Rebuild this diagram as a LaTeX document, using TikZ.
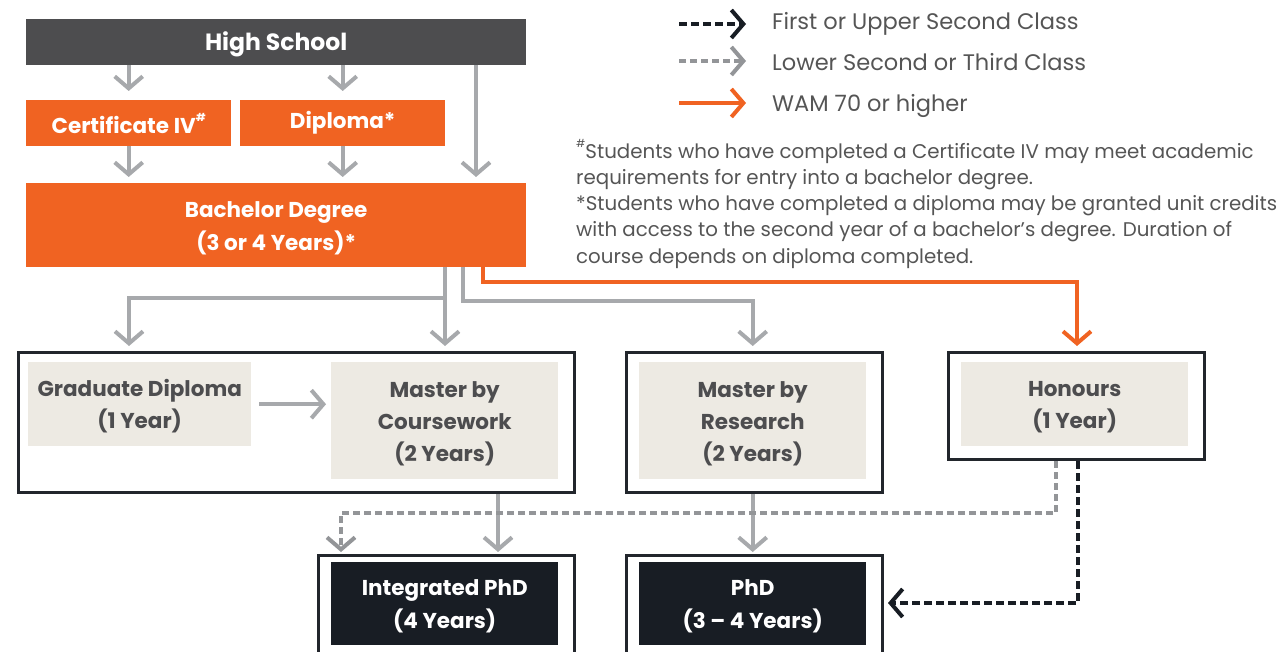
\documentclass[tikz,border=0pt]{standalone}
\usepackage{fontspec}
\setmainfont{Poppins}
\usetikzlibrary{arrows.meta,calc}
\definecolor{orng}{HTML}{F06322}
\definecolor{hsgray}{HTML}{4D4D4F}
\definecolor{agray}{HTML}{A7A9AC}
\definecolor{dgray}{HTML}{939598}
\definecolor{beige}{HTML}{EDEAE3}
\definecolor{darkbox}{HTML}{181D24}
\definecolor{bord}{HTML}{22262C}
\definecolor{txtgray}{HTML}{4D4D4F}
\definecolor{notegray}{HTML}{555555}
\newcommand{\supmark}[1]{\raisebox{0.55em}{\fontsize{11}{11}\selectfont #1}}
\tikzset{
  chev/.tip={Straight Barb[length=12pt,width=28pt]},
  conn/.style={line width=4pt},
  garrow/.style={conn, draw=agray, -chev},
  oarrow/.style={conn, draw=orng, -chev},
  gdash/.style={conn, draw=dgray, dash pattern=on 7pt off 4pt, -chev},
  kdash/.style={conn, draw=darkbox, dash pattern=on 8pt off 4pt, -chev},
  box/.style={anchor=north west, inner sep=0pt, align=center},
  lowered/.style={text height=#1},
  orngbox/.style={box, fill=orng, text=white, font=\fontsize{21.5}{33}\selectfont\bfseries},
  outerbox/.style={box, draw=bord, line width=3pt, fill=white},
  beigebox/.style={box, fill=beige, text=txtgray, font=\fontsize{21.5}{32}\selectfont\bfseries},
  darkbx/.style={box, fill=darkbox, text=white, font=\fontsize{21.5}{33}\selectfont\bfseries},
  legtext/.style={anchor=west, inner sep=0pt, text=notegray, font=\fontsize{22.5}{26}\selectfont},
  notetext/.style={anchor=north west, inner sep=0pt, align=left, text=notegray, font=\fontsize{19.8}{26.2}\selectfont},
}
\begin{document}
\begin{tikzpicture}[x=1pt,y=-1pt]
\useasboundingbox (0,0) rectangle (1281,652);
% top block
\node[box, lowered=24pt, fill=hsgray, text=white, font=\fontsize{23.5}{26}\selectfont\bfseries,
  minimum width=500pt, minimum height=46pt] (hs) at (26,19) {High School};
\node[orngbox, minimum width=205pt, minimum height=46pt] (cert) at (26,100) {Certificate IV\supmark{\#}};
\node[orngbox, minimum width=205pt, minimum height=46pt] (dip) at (240,100) {Diploma*};
\node[orngbox, lowered=55pt, minimum width=500pt, minimum height=84pt] (bach) at (26,183) {Bachelor Degree\\(3 or 4 Years)*};
% row 2
\node[outerbox, minimum width=556pt, minimum height=140pt] (o1) at (17,351) {};
\node[beigebox, lowered=54pt, minimum width=223pt, minimum height=84pt] (gd) at (28,362) {Graduate Diploma\\(1 Year)};
\node[beigebox, lowered=86pt, minimum width=227pt, minimum height=117pt] (mc) at (331,362) {Master by\\Coursework\\(2 Years)};
\node[outerbox, minimum width=256pt, minimum height=140pt] (o2) at (625,351) {};
\node[beigebox, lowered=86pt, minimum width=227pt, minimum height=117pt] (mr) at (639,362) {Master by\\Research\\(2 Years)};
\node[outerbox, minimum width=256pt, minimum height=107pt] (o3) at (947,351) {};
\node[beigebox, lowered=54pt, minimum width=227pt, minimum height=84pt] (hon) at (961,362) {Honours\\(1 Year)};
% row 3
\node[outerbox, minimum width=256pt, minimum height=98pt] (o4) at (317,554) {};
\node[darkbx, lowered=55pt, minimum width=227pt, minimum height=83pt] (ip) at (331,562) {Integrated PhD\\(4 Years)};
\node[outerbox, minimum width=256pt, minimum height=98pt] (o5) at (625,554) {};
\node[darkbx, lowered=55pt, minimum width=227pt, minimum height=83pt] (phd) at (639,562) {PhD\\(3 – 4 Years)};
% connectors top
\draw[garrow, shorten >=9pt] (cert.north |- hs.south) -- (cert.north);
\draw[garrow, shorten >=9pt] (dip.north |- hs.south) -- (dip.north);
\draw[garrow, shorten >=6pt] (476,0 |- hs.south) -- (476,0 |- bach.north);
\draw[garrow, shorten >=6pt] (cert.south) -- (cert.south |- bach.north);
\draw[garrow, shorten >=6pt] (dip.south) -- (dip.south |- bach.north);
% bachelor to row 2
\draw[garrow, shorten >=5pt] (445,0 |- bach.south) |- (129,298) -- (129,0 |- o1.north);
\draw[garrow, shorten >=5pt] (445,0 |- bach.south) -- (445,0 |- o1.north);
\draw[garrow, shorten >=5pt] (463,0 |- bach.south) |- (mr.north |- 0,301) -- (mr.north |- o2.north);
\draw[oarrow, shorten >=5pt] (483,0 |- bach.south) |- (1077,282) -- (1077,0 |- o3.north);
\draw[garrow, shorten <=8pt, shorten >=5pt] (gd.east) -- (gd.east -| mc.west);
% row 2 to row 3
\draw[garrow, shorten >=2pt] (498,0 |- o1.south) -- (498,0 |- o4.north);
\draw[garrow, shorten >=2pt] (mr.south |- o2.south) -- (mr.south |- o5.north);
\draw[gdash, shorten >=2pt] (1056,0 |- o3.south) |- (341,513) -- (341,0 |- o4.north);
\draw[kdash, shorten >=4pt] (1078,0 |- o3.south) |- (o5.east |- 0,603);
% legend
\coordinate (l1a) at (679,24); \coordinate (l1b) at (746,24);
\coordinate (l2a) at (679,61); \coordinate (l2b) at (746,61);
\coordinate (l3a) at (679,103); \coordinate (l3b) at (746,103);
\draw[kdash] (l1a) -- (l1b);
\draw[gdash] (l2a) -- (l2b);
\draw[oarrow] (l3a) -- (l3b);
\node[legtext] (t1) at (772,24) {First or Upper Second Class};
\node[legtext] (t2) at (772,62) {Lower Second or Third Class};
\node[legtext] (t3) at (772,106) {WAM 70 or higher};
% notes
\node[notetext] (notes) at (576,139) {\supmark{\#}Students who have completed a Certificate IV may meet academic\\
requirements for entry into a bachelor degree.\\
*Students who have completed a diploma may be granted unit credits\\
with access to the second year of a bachelor’s degree. Duration of\\
course depends on diploma completed.};
\end{tikzpicture}
\end{document}
